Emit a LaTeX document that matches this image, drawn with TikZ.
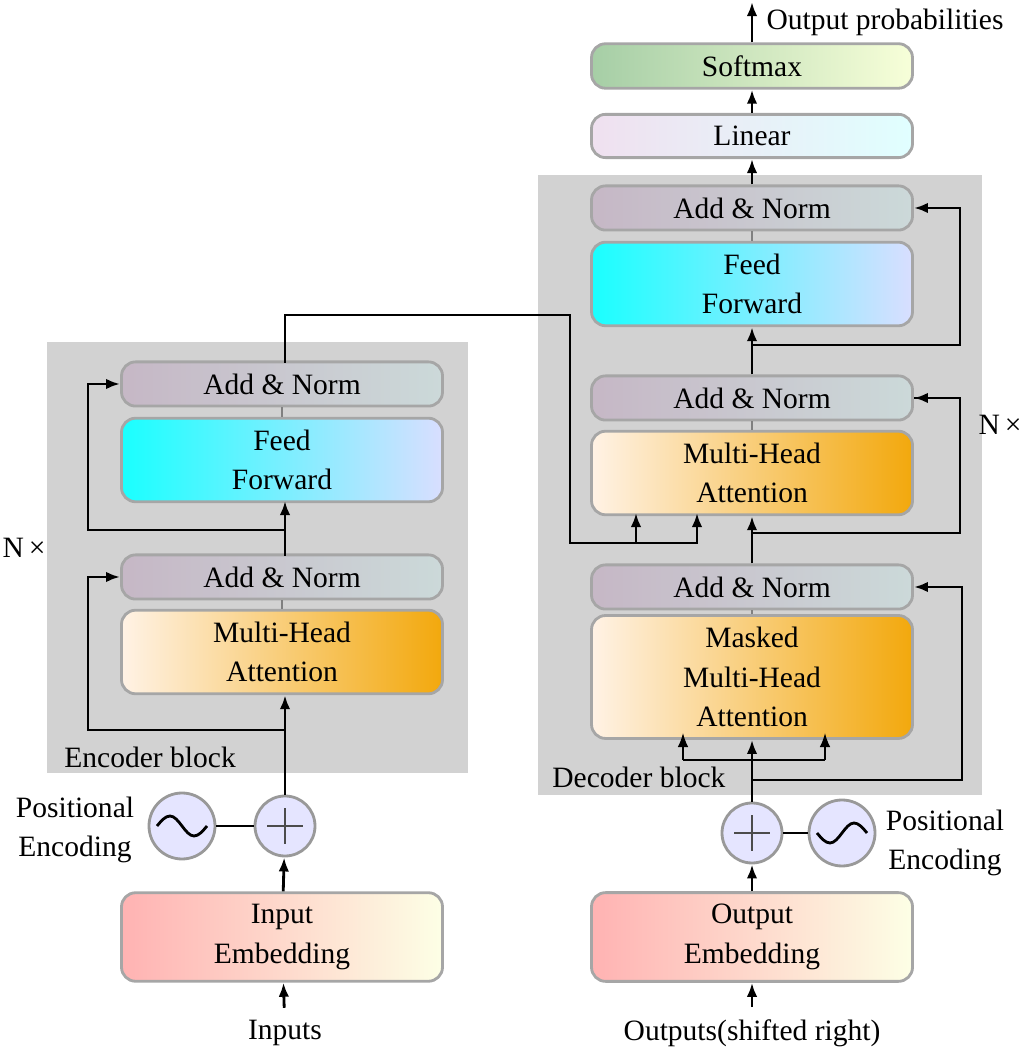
\documentclass[tikz,border=0pt]{standalone}
\usepackage{fontspec}
\setmainfont{Liberation Serif}
\usetikzlibrary{positioning,arrows.meta}
\tikzset{
  blk/.style={rounded corners=4pt,draw=gray!70,thick,minimum width=3.21cm,align=center,font=\fontsize{8.4}{11.2}\selectfont},
  addnorm/.style={blk,minimum height=0.41cm,left color=violet!25!gray!45,right color=cyan!15!gray!35},
  ffwd/.style={blk,minimum height=0.81cm,left color=cyan!90,right color=cyan!15!blue!15},
  mha/.style={blk,minimum height=0.8cm,shading angle=120,left color=orange!10,right color=orange!60!yellow!80!brown},
  emb/.style={blk,minimum height=0.82cm,left color=red!30,right color=green!8!yellow!10},
  circ/.style={circle,draw=gray!80,thick,fill=blue!10},
  lbl/.style={font=\fontsize{8.4}{11.2}\selectfont,align=center},
  arr/.style={-{Latex[length=4pt,width=3pt]},thick},
}
\begin{document}
\begin{tikzpicture}
\useasboundingbox (0,0) rectangle (10.25,10.54);
% gray block backgrounds
\fill[gray!35] (0.47,2.81) rectangle (4.68,7.12);
\fill[gray!35] (5.38,2.59) rectangle (9.82,8.79);
% Encoder
\node[emb] (inemb) at (2.82,1.17) {Input\\Embedding};
\node[lbl] (inputs) at (2.85,0.21) {Inputs};
\node[circ,minimum size=0.6cm] (eplus) at (2.85,2.28) {};
\draw[thick,gray!60!black] ([xshift=-0.18cm]eplus.center)--([xshift=0.18cm]eplus.center) ([yshift=-0.18cm]eplus.center)--([yshift=0.18cm]eplus.center);
\node[circ,minimum size=0.66cm] (esin) at (1.82,2.28) {};
\draw[thick] ([xshift=-0.25cm]esin.center) sin ([xshift=-0.12cm,yshift=0.1cm]esin.center) cos (esin.center) sin ([xshift=0.12cm,yshift=-0.1cm]esin.center) cos ([xshift=0.25cm]esin.center);
\node[lbl] (epos) at (0.75,2.24) {Positional\\Encoding};
\node[mha] (emha) at (2.82,4.02) {Multi-Head\\Attention};
\node[addnorm] (ean1) at (2.82,4.77) {Add \& Norm};
\node[ffwd] (eff) at (2.82,5.94) {Feed\\Forward};
\node[addnorm] (ean2) at (2.82,6.70) {Add \& Norm};
\node[lbl,anchor=west] (eblk) at (0.52,2.97) {Encoder block};
\node[lbl] (enx) at (0.24,5.06) {N\,×};
% Decoder
\node[emb] (outemb) at (7.52,1.17) {Output\\Embedding};
\node[lbl] (outputs) at (7.52,0.21) {Outputs(shifted right)};
\node[circ,minimum size=0.6cm] (dplus) at (7.52,2.21) {};
\draw[thick,gray!60!black] ([xshift=-0.18cm]dplus.center)--([xshift=0.18cm]dplus.center) ([yshift=-0.18cm]dplus.center)--([yshift=0.18cm]dplus.center);
\node[circ,minimum size=0.66cm] (dsin) at (8.42,2.21) {};
\draw[thick] ([xshift=-0.25cm]dsin.center) sin ([xshift=-0.12cm,yshift=-0.1cm]dsin.center) cos (dsin.center) sin ([xshift=0.12cm,yshift=0.1cm]dsin.center) cos ([xshift=0.25cm]dsin.center);
\node[lbl] (dpos) at (9.45,2.11) {Positional\\Encoding};
\node[mha,minimum height=1.12cm] (dmmha) at (7.52,3.77) {Masked\\Multi-Head\\Attention};
\node[addnorm] (dan1) at (7.52,4.67) {Add \& Norm};
\node[mha] (dmha) at (7.52,5.81) {Multi-Head\\Attention};
\node[addnorm] (dan2) at (7.52,6.56) {Add \& Norm};
\node[ffwd] (dff) at (7.52,7.70) {Feed\\Forward};
\node[addnorm] (dan3) at (7.52,8.46) {Add \& Norm};
\node[blk,minimum height=0.42cm,left color=violet!12,right color=cyan!12] (lin) at (7.52,9.18) {Linear};
\node[blk,minimum height=0.42cm,left color=green!45!black!35,right color=green!20!yellow!15] (soft) at (7.52,9.88) {Softmax};
\node[lbl] (oprob) at (8.85,10.32) {Output probabilities};
\node[lbl,anchor=west] (dblk) at (5.40,2.77) {Decoder block};
\node[lbl] (dnx) at (10.0,6.29) {N\,×};
% Encoder connections
\draw[arr] (inputs)--(inemb);
\draw[arr] (inemb)--(eplus);
\draw[thick] (esin)--(eplus);
\draw[arr] (eplus)--(eplus|-emha.south);
\draw[thick,gray] (emha)--(ean1);
\draw[arr] (2.85,4.98)--(2.85,5.53);
\draw[thick,gray] (eff)--(ean2);
\draw[arr] (2.85,3.24)-|(0.88,4.77)--(ean1.west);
\draw[arr] (2.85,5.24)-|(0.88,6.70)--(ean2.west);
\draw[arr] (2.85,6.91)--(2.85,7.39)-|(5.70,5.11)-|(6.97,5.41);
\draw[arr] (6.36,5.11)--(6.36,5.41);
% Decoder connections
\draw[arr] (outputs)--(outemb);
\draw[arr] (outemb)--(dplus);
\draw[thick] (dsin)--(dplus);
\draw[arr] (dplus)--(dmmha);
\draw[thick] (6.83,2.94)--(8.25,2.94);
\draw[arr,thin] (6.83,2.94)--(6.83,3.21);
\draw[arr,thin] (8.25,2.94)--(8.25,3.21);
\draw[arr] (7.52,2.74)-|(9.62,4.67)--(dan1.east);
\draw[thick,gray] (dmmha)--(dan1);
\draw[arr] (dan1)--(dmha);
\draw[thick] (7.52,5.21)-|(9.60,6.56)--(dan2.east);
\draw[arr] (9.60,6.56)--(dan2.east);
\draw[thick,gray] (dmha)--(dan2);
\draw[arr] (dan2)--(dff);
\draw[arr] (7.52,7.09)-|(9.60,8.46)--(dan3.east);
\draw[thick,gray] (dff)--(dan3);
\draw[arr] (dan3)--(lin);
\draw[arr] (lin)--(soft);
\draw[arr] (soft.north)--(7.52,10.52);
\end{tikzpicture}
\end{document}
